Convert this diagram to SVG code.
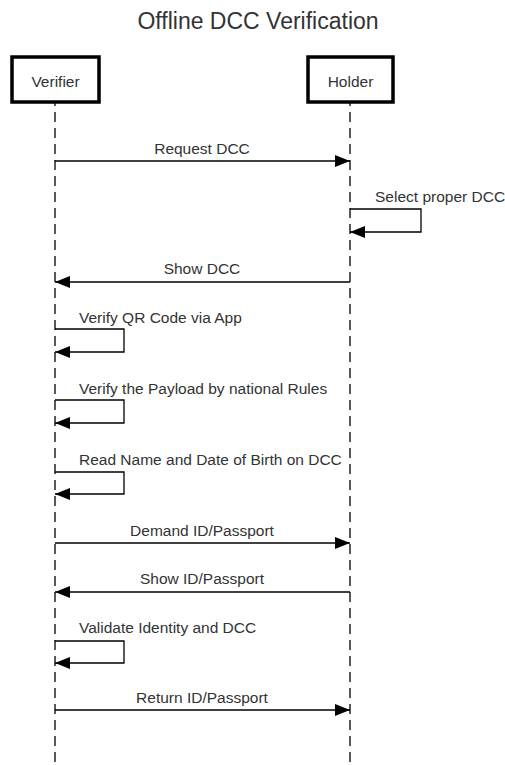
<svg xmlns="http://www.w3.org/2000/svg" width="505" height="765" viewBox="0 0 505 765">
<style>
text{font-family:"Liberation Sans",Arial,sans-serif;fill:#333;}
.t{font-size:23px;text-anchor:middle;}
.lbl{font-size:15.5px;}
.c{text-anchor:middle;}
.box{fill:#fff;stroke:#000;stroke-width:3.5;}
.life{stroke:#000;stroke-width:1.3;stroke-dasharray:10 6;fill:none;}
.msg{stroke:#000;stroke-width:1.3;fill:none;marker-end:url(#ah);}
</style>
<defs>
<marker id="ah" markerUnits="userSpaceOnUse" markerWidth="16" markerHeight="14" refX="15" refY="6" orient="auto">
<path d="M0,0 L15,6 L0,12 Z" fill="#000"/>
</marker>
</defs>
<text class="t" x="258" y="29">Offline DCC Verification</text>
<g id="verifier">
<line class="life" x1="55" y1="96" x2="55" y2="765"/>
<rect class="box" x="12" y="57" width="87" height="45"/>
<text class="lbl c" x="55.5" y="87">Verifier</text>
</g>
<g id="holder">
<line class="life" x1="350" y1="96" x2="350" y2="765"/>
<rect class="box" x="308" y="57" width="85" height="45"/>
<text class="lbl c" x="350.5" y="87">Holder</text>
</g>
<g id="connectors">
<path class="msg" d="M55,161 H350"/>
<text class="lbl c" x="202" y="154">Request DCC</text>
<path class="msg" d="M350,209 H421 V232 H350"/>
<text class="lbl" x="375" y="202">Select proper DCC</text>
<path class="msg" d="M350,282 H55"/>
<text class="lbl c" x="202" y="274">Show DCC</text>
<path class="msg" d="M55,329 H124 V352 H55"/>
<text class="lbl" x="79" y="323">Verify QR Code via App</text>
<path class="msg" d="M55,400 H124 V423 H55"/>
<text class="lbl" x="79" y="394">Verify the Payload by national Rules</text>
<path class="msg" d="M55,472 H124 V494 H55"/>
<text class="lbl" x="79" y="465">Read Name and Date of Birth on DCC</text>
<path class="msg" d="M55,543 H350"/>
<text class="lbl c" x="202" y="536">Demand ID/Passport</text>
<path class="msg" d="M350,592 H55"/>
<text class="lbl c" x="202" y="584">Show ID/Passport</text>
<path class="msg" d="M55,641 H124 V663 H55"/>
<text class="lbl" x="79" y="633">Validate Identity and DCC</text>
<path class="msg" d="M55,710 H350"/>
<text class="lbl c" x="202" y="703">Return ID/Passport</text>
</g>
</svg>
